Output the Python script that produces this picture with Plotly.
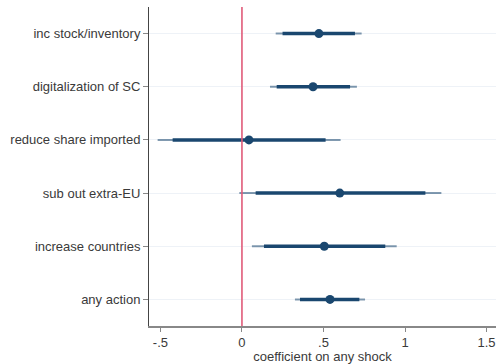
import plotly.graph_objects as go

# Outcomes, listed bottom to top
outcomes = ["any action", "increase countries", "sub out extra-EU",
            "reduce share imported", "digitalization of SC", "inc stock/inventory"]
coef = [0.54, 0.505, 0.60, 0.043, 0.436, 0.472]
ci90_lo = [0.356, 0.135, 0.084, -0.425, 0.213, 0.249]
ci90_hi = [0.72, 0.879, 1.125, 0.513, 0.663, 0.693]
ci95_lo = [0.325, 0.061, -0.016, -0.517, 0.172, 0.207]
ci95_hi = [0.755, 0.949, 1.223, 0.605, 0.705, 0.734]

x_ticks = [-0.5, 0, 0.5, 1, 1.5]
x_ticklabels = ["-.5", "0", ".5", "1", "1.5"]

navy = "#1a476f"


def segments(lo, hi, cats):
    xs, ys = [], []
    for a, b, c in zip(lo, hi, cats):
        xs += [a, b, None]
        ys += [c, c, None]
    return xs, ys


fig = go.Figure()

x95, y95 = segments(ci95_lo, ci95_hi, outcomes)
fig.add_trace(go.Scatter(x=x95, y=y95, mode="lines",
                         line=dict(color="rgba(26,71,111,0.55)", width=2),
                         hoverinfo="skip", showlegend=False))

x90, y90 = segments(ci90_lo, ci90_hi, outcomes)
fig.add_trace(go.Scatter(x=x90, y=y90, mode="lines",
                         line=dict(color=navy, width=3.5),
                         hoverinfo="skip", showlegend=False))

fig.add_trace(go.Scatter(x=coef, y=outcomes, mode="markers",
                         marker=dict(color=navy, size=9),
                         showlegend=False))

fig.add_shape(type="line", x0=0, x1=0, xref="x", y0=0, y1=1, yref="paper",
              line=dict(color="#e05a78", width=1.6), layer="above")

fig.update_layout(
    width=497, height=364,
    margin=dict(l=149, r=1, t=7, b=38),
    paper_bgcolor="white", plot_bgcolor="white",
    font=dict(family="Liberation Sans, Arial, sans-serif", size=13, color="#3a3a3a"),
    xaxis=dict(
        range=[-0.57, 1.558],
        tickvals=x_ticks, ticktext=x_ticklabels,
        ticks="outside", ticklen=4, tickcolor="#888888", tickwidth=1,
        showline=True, linecolor="#888888", linewidth=1.5,
        showgrid=False, zeroline=False,
        tickfont=dict(size=13, color="#3a3a3a"),
        title=dict(text="coefficient on any shock", standoff=1,
                   font=dict(size=13, color="#3a3a3a")),
    ),
    yaxis=dict(
        type="category", categoryorder="array", categoryarray=outcomes,
        range=[-0.5, 5.5],
        ticks="outside", ticklen=5, tickcolor="#888888", tickwidth=1,
        showline=True, linecolor="#444444", linewidth=1,
        showgrid=True, gridcolor="#eef2f7", gridwidth=1,
        zeroline=False,
        tickfont=dict(size=13, color="#3a3a3a"),
    ),
)

fig.write_html("out.html")
